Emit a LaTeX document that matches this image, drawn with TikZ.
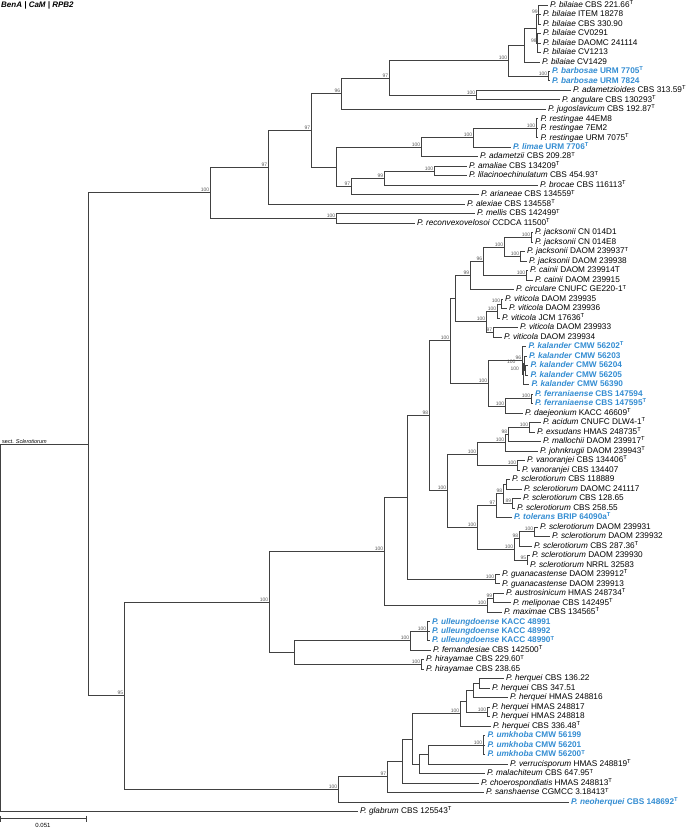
\documentclass[tikz,border=0pt]{standalone}
\usepackage{fontspec}
\setmainfont{Liberation Sans}
\usetikzlibrary{calc}
\definecolor{hl}{RGB}{52,141,210}
\definecolor{brc}{RGB}{65,65,65}
\newcommand{\Ty}{\textsuperscript{T}}
\newcommand{\spn}[1]{\textit{#1}}
\newcommand{\bl}[2]{\textcolor{hl}{\textbf{\textit{#1} #2}}}
\tikzset{
 br/.style={draw=brc, line width=0.85bp},
 leaf/.style={anchor=west, inner xsep=2.5bp, inner ysep=0pt, outer sep=0pt, text height=5.9bp, text depth=1.6bp, font=\fontsize{8.25bp}{9bp}\selectfont},
 sup/.style={anchor=south east, inner sep=0.4bp, font=\fontsize{5bp}{5bp}\selectfont, text=black!65},
}
\newcommand{\lf}[4]{\node[leaf] (#1) at (#3,{5+(#2-1)*9.49}) {#4};}
\newcommand{\cl}[5]{%
  \coordinate (#1-m) at ($(#3)!0.5!(#4)$);
  \coordinate (#1) at ($(#2,0)!(#1-m)!(#2,10)$);
  \draw[br] (#1) |- (#3);
  \draw[br] (#1) |- (#4);
  \node[sup] (#1-s) at ([xshift=-0.3bp,yshift=0.3bp]#1) {#5};}
\begin{document}
\begin{tikzpicture}[x=1bp,y=-1bp]
\useasboundingbox (0,0) rectangle (695,828);
\node[anchor=north west, inner sep=0pt, font=\bfseries\itshape\fontsize{8bp}{9bp}\selectfont] (title) at (1,1.5) {BenA | CaM | RPB2};
% leaves
\lf{L1}{1}{547.5}{\spn{P. bilaiae} CBS 221.66\Ty}
\lf{L2}{2}{540.5}{\spn{P. bilaiae} ITEM 18278}
\lf{L3}{3}{540.5}{\spn{P. bilaiae} CBS 330.90}
\lf{L4}{4}{540.5}{\spn{P. bilaiae} CV0291}
\lf{L5}{5}{540.5}{\spn{P. bilaiae} DAOMC 241114}
\lf{L6}{6}{540.5}{\spn{P. bilaiae} CV1213}
\lf{L7}{7}{539.5}{\spn{P. bilaiae} CV1429}
\lf{L8}{8}{549.5}{\bl{P. barbosae}{URM 7705\Ty}}
\lf{L9}{9}{549.5}{\bl{P. barbosae}{URM 7824}}
\lf{L10}{10}{570.5}{\spn{P. adametzioides} CBS 313.59\Ty}
\lf{L11}{11}{559.5}{\spn{P. angulare} CBS 130293\Ty}
\lf{L12}{12}{545.5}{\spn{P. jugoslavicum} CBS 192.87\Ty}
\lf{L13}{13}{538}{\spn{P. restingae} 44EM8}
\lf{L14}{14}{538}{\spn{P. restingae} 7EM2}
\lf{L15}{15}{538}{\spn{P. restingae} URM 7075\Ty}
\lf{L16}{16}{510.5}{\bl{P. limae}{URM 7706\Ty}}
\lf{L17}{17}{477.5}{\spn{P. adametzii} CBS 209.28\Ty}
\lf{L18}{18}{466.5}{\spn{P. amaliae} CBS 134209\Ty}
\lf{L19}{19}{466.5}{\spn{P. lilacinoechinulatum} CBS 454.93\Ty}
\lf{L20}{20}{537.5}{\spn{P. brocae} CBS 116113\Ty}
\lf{L21}{21}{478.5}{\spn{P. arianeae} CBS 134559\Ty}
\lf{L22}{22}{464.5}{\spn{P. alexiae} CBS 134558\Ty}
\lf{L23}{23}{474.5}{\spn{P. mellis} CBS 142499\Ty}
\lf{L24}{24}{414.5}{\spn{P. reconvexovelosoi} CCDCA 11500\Ty}
\lf{L25}{25}{532.5}{\spn{P. jacksonii} CN 014D1}
\lf{L26}{26}{532.5}{\spn{P. jacksonii} CN 014E8}
\lf{L27}{27}{524.5}{\spn{P. jacksonii} DAOM 239937\Ty}
\lf{L28}{28}{526.5}{\spn{P. jacksonii} DAOM 239938}
\lf{L29}{29}{527.5}{\spn{P. cainii} DAOM 239914T}
\lf{L30}{30}{532.5}{\spn{P. cainii} DAOM 239915}
\lf{L31}{31}{513.5}{\spn{P. circulare} CNUFC GE220-1\Ty}
\lf{L32}{32}{502.5}{\spn{P. viticola} DAOM 239935}
\lf{L33}{33}{506.5}{\spn{P. viticola} DAOM 239936}
\lf{L34}{34}{499.5}{\spn{P. viticola} JCM 17636\Ty}
\lf{L35}{35}{517.5}{\spn{P. viticola} DAOM 239933}
\lf{L36}{36}{501.5}{\spn{P. viticola} DAOM 239934}
\lf{L37}{37}{526}{\bl{P. kalander}{CMW 56202\Ty}}
\lf{L38}{38}{526.5}{\bl{P. kalander}{CMW 56203}}
\lf{L39}{39}{528}{\bl{P. kalander}{CMW 56204}}
\lf{L40}{40}{528}{\bl{P. kalander}{CMW 56205}}
\lf{L41}{41}{529}{\bl{P. kalander}{CMW 56390}}
\lf{L42}{42}{532.5}{\bl{P. ferraniaense}{CBS 147594}}
\lf{L43}{43}{532.5}{\bl{P. ferraniaense}{CBS 147595\Ty}}
\lf{L44}{44}{522.5}{\spn{P. daejeonium} KACC 46609\Ty}
\lf{L45}{45}{540.5}{\spn{P. acidum} CNUFC DLW4-1\Ty}
\lf{L46}{46}{534.5}{\spn{P. exsudans} HMAS 248735\Ty}
\lf{L47}{47}{540.5}{\spn{P. mallochii} DAOM 239917\Ty}
\lf{L48}{48}{537.5}{\spn{P. johnkrugii} DAOM 239943\Ty}
\lf{L49}{49}{524.5}{\spn{P. vanoranjei} CBS 134406\Ty}
\lf{L50}{50}{519.5}{\spn{P. vanoranjei} CBS 134407}
\lf{L51}{51}{509.5}{\spn{P. sclerotiorum} CBS 118889}
\lf{L52}{52}{521.5}{\spn{P. sclerotiorum} DAOMC 241117}
\lf{L53}{53}{520.5}{\spn{P. sclerotiorum} CBS 128.65}
\lf{L54}{54}{514.5}{\spn{P. sclerotiorum} CBS 258.55}
\lf{L55}{55}{511.5}{\bl{P. tolerans}{BRIP 64090a\Ty}}
\lf{L56}{56}{537.5}{\spn{P. sclerotiorum} DAOM 239931}
\lf{L57}{57}{549.5}{\spn{P. sclerotiorum} DAOM 239932}
\lf{L58}{58}{531.5}{\spn{P. sclerotiorum} CBS 287.36\Ty}
\lf{L59}{59}{529.5}{\spn{P. sclerotiorum} DAOM 239930}
\lf{L60}{60}{527.5}{\spn{P. sclerotiorum} NRRL 32583}
\lf{L61}{61}{499.5}{\spn{P. guanacastense} DAOM 239912\Ty}
\lf{L62}{62}{499.5}{\spn{P. guanacastense} DAOM 239913}
\lf{L63}{63}{503.5}{\spn{P. austrosinicum} HMAS 248734\Ty}
\lf{L64}{64}{510.5}{\spn{P. meliponae} CBS 142495\Ty}
\lf{L65}{65}{501.5}{\spn{P. maximae} CBS 134565\Ty}
\lf{L66}{66}{429.5}{\bl{P. ulleungdoense}{KACC 48991}}
\lf{L67}{67}{429.5}{\bl{P. ulleungdoense}{KACC 48992}}
\lf{L68}{68}{429.5}{\bl{P. ulleungdoense}{KACC 48990\Ty}}
\lf{L69}{69}{430.5}{\spn{P. fernandesiae} CBS 142500\Ty}
\lf{L70}{70}{423.5}{\spn{P. hirayamae} CBS 229.60\Ty}
\lf{L71}{71}{423.5}{\spn{P. hirayamae} CBS 238.65}
\lf{L72}{72}{503.5}{\spn{P. herquei} CBS 136.22}
\lf{L73}{73}{489.5}{\spn{P. herquei} CBS 347.51}
\lf{L74}{74}{507.5}{\spn{P. herquei} HMAS 248816}
\lf{L75}{75}{489.5}{\spn{P. herquei} HMAS 248817}
\lf{L76}{76}{489.5}{\spn{P. herquei} HMAS 248818}
\lf{L77}{77}{490.5}{\spn{P. herquei} CBS 336.48\Ty}
\lf{L78}{78}{485}{\bl{P. umkhoba}{CMW 56199}}
\lf{L79}{79}{485}{\bl{P. umkhoba}{CMW 56201}}
\lf{L80}{80}{485}{\bl{P. umkhoba}{CMW 56200\Ty}}
\lf{L81}{81}{507.5}{\spn{P. verrucisporum} HMAS 248819\Ty}
\lf{L82}{82}{484.5}{\spn{P. malachiteum} CBS 647.95\Ty}
\lf{L83}{83}{478.5}{\spn{P. choerospondiatis} HMAS 248813\Ty}
\lf{L84}{84}{483.5}{\spn{P. sanshaense} CGMCC 3.18413\Ty}
\lf{L85}{85}{568.5}{\bl{P. neoherquei}{CBS 148692\Ty}}
\lf{L86}{86}{357.5}{\spn{P. glabrum} CBS 125543\Ty}
% upper clade
\cl{B1}{538.5}{L1}{L3}{99} \draw[br] (B1) |- (L2);
\cl{B2}{537.5}{L4}{L6}{98} \draw[br] (B2) |- (L5);
\cl{Bx}{536}{B1}{B2}{}
\cl{B3}{524}{Bx}{L7}{}
\cl{Bb}{548}{L8}{L9}{100}
\cl{B4}{508}{B3}{Bb}{100}
\cl{Ad}{476}{L10}{L11}{100}
\cl{N97a}{389}{B4}{Ad}{97}
\cl{N96}{341}{N97a}{L12}{96}
\cl{R1}{536}{L13}{L15}{100} \draw[br] (R1) |- (L14);
\cl{R2}{473}{R1}{L16}{100}
\cl{R3}{421}{R2}{L17}{100}
\cl{A1}{434}{L18}{L19}{100}
\cl{A2}{384}{A1}{L20}{99}
\cl{A3}{351}{A2}{L21}{97}
\cl{N336}{336}{R3}{A3}{}
\cl{N311}{311}{N96}{N336}{97}
\cl{N268}{268}{N311}{L22}{97}
\cl{Me}{336}{L23}{L24}{100}
\cl{N210}{210}{N268}{Me}{100}
% middle clade
\cl{J1}{531}{L25}{L26}{100}
\cl{J2}{520}{L27}{L28}{100}
\cl{J3}{504}{J1}{J2}{100}
\cl{C1}{526}{L29}{L30}{100}
\cl{J4}{483}{J3}{C1}{96}
\cl{J5}{470}{J4}{L31}{99}
\cl{V1}{501}{L32}{L33}{100}
\cl{V2}{497}{V1}{L34}{100}
\cl{V4}{493}{L35}{L36}{97}
\cl{V3}{486}{V2}{V4}{100}
\cl{N455}{455}{J5}{V3}{}
\cl{K1}{525}{L39}{L40}{}
\cl{K3}{524}{L38}{K1}{}
\cl{Kx}{523}{K3}{L41}{}
\cl{K4}{522}{L37}{Kx}{96}
\node[sup] (K3-t) at (516,364) {100};
\node[sup] (K1-t) at (519.5,371) {100};
\cl{F1}{531}{L42}{L43}{100}
\cl{F2}{505}{F1}{L44}{100}
\cl{K5}{488}{K4}{F2}{100}
\cl{N450}{450}{N455}{K5}{100}
\cl{AE}{529}{L45}{L46}{100}
\cl{M98}{508}{AE}{L47}{98}
\cl{J100}{505}{M98}{L48}{100}
\cl{Va}{517}{L49}{L50}{100}
\cl{N477a}{477}{J100}{Va}{100}
\cl{S1}{506}{L51}{L52}{}
\cl{S89}{512}{L53}{L54}{89}
\cl{S98}{503}{S1}{S89}{98}
\cl{S97}{496}{S98}{L55}{97}
\cl{D1}{534}{L56}{L57}{100}
\cl{D98}{519}{D1}{L58}{98}
\cl{D95}{527}{L59}{L60}{95}
\cl{D100}{514}{D98}{D95}{100}
\cl{N477b}{477}{S97}{D100}{100}
\cl{N447}{447}{N477a}{N477b}{100}
\cl{N429}{429}{N450}{N447}{98}
\cl{G}{495}{L61}{L62}{100}
\cl{N407}{407}{N429}{G}{}
\cl{Au99}{493}{L63}{L64}{99}
\cl{Au}{487}{Au99}{L65}{100}
\cl{N384}{384}{N407}{Au}{100}
\cl{U}{427}{L66}{L68}{100} \draw[br] (U) |- (L67);
\cl{UF}{410}{U}{L69}{100}
\cl{H}{421}{L70}{L71}{100}
\cl{N294}{294}{UF}{H}{}
\cl{N269}{269}{N384}{N294}{100}
% lower clade
\cl{Hq1}{479}{L72}{L73}{}
\cl{Hq2}{473}{Hq1}{L74}{}
\cl{Hq3}{487}{L75}{L76}{100}
\cl{Hq4}{466}{Hq2}{Hq3}{}
\cl{Hq5}{460}{Hq4}{L77}{100}
\cl{Um}{483}{L78}{L80}{100} \draw[br] (Um) |- (L79);
\cl{Nw}{428}{Um}{L81}{}
\cl{Nv}{419}{Nw}{L82}{}
\cl{Nu}{412}{Hq5}{Nv}{}
\cl{Nx}{402}{Nu}{L83}{}
\cl{N97b}{387}{Nx}{L84}{97}
\cl{N338}{338}{N97b}{L85}{100}
\cl{N124}{124}{N269}{N338}{95}
\cl{N88}{88}{N210}{N124}{}
\cl{root}{0.8}{N88}{L86}{}
\path let \p1=(N88) in node[anchor=south west, inner sep=0.5bp, font=\fontsize{5.5bp}{6bp}\selectfont] (sect) at (1.5bp,\y1) {sect. \textit{Sclerotiorum}};
% scale bar
\coordinate (sb1) at (0.6,818);
\coordinate (sb2) at (86,818);
\draw[br] (sb1) -- (sb2);
\draw[br] ([yshift=2.5bp]sb1) -- ([yshift=-4bp]sb1);
\draw[br] ([yshift=2.5bp]sb2) -- ([yshift=-4bp]sb2);
\node[font=\fontsize{6bp}{6bp}\selectfont, inner sep=0pt] (sbl) at (43,825.5) {0.051};
\end{tikzpicture}
\end{document}
